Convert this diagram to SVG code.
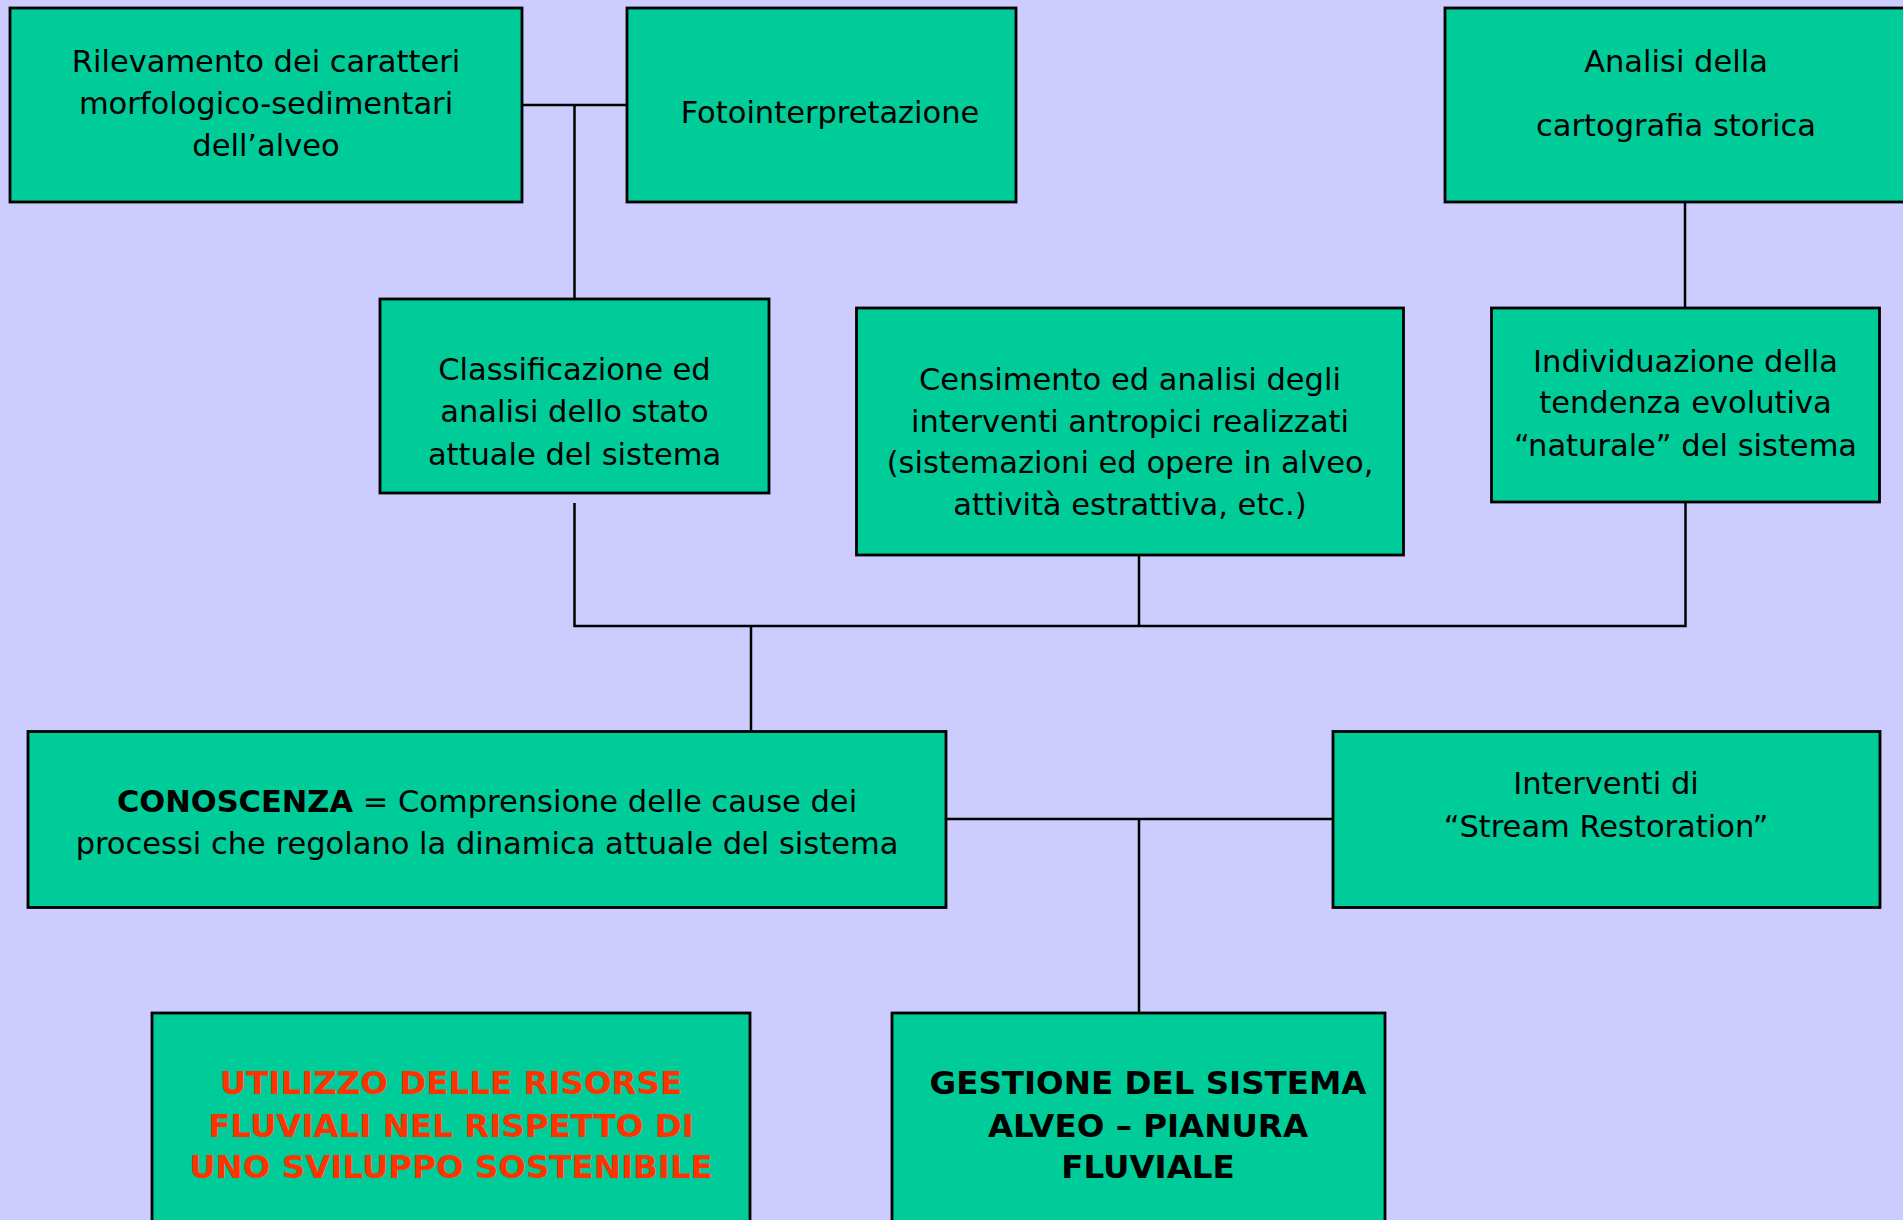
<svg xmlns="http://www.w3.org/2000/svg" width="1903" height="1220" viewBox="0 0 1903 1220">
<style>
.box{fill:#00CC99;stroke:#000;stroke-width:2.8}
.t{font-family:"DejaVu Sans","Liberation Sans",sans-serif;font-size:30.5px;fill:#000;text-anchor:middle}
.b{font-family:"DejaVu Sans","Liberation Sans",sans-serif;font-size:32.5px;font-weight:bold;text-anchor:middle}
.red{fill:#FF3300}
.blk{fill:#000}
.c{stroke:#000;stroke-width:2.5;fill:none}
</style>
<rect width="1903" height="1220" fill="#CCCCFF"/>
<g id="connectors">
<path class="c" d="M522,105 H627"/>
<path class="c" d="M574.5,105 V299"/>
<path class="c" d="M1685,202 V308"/>
<path class="c" d="M574.5,503 V626 H1685.5 V502"/>
<path class="c" d="M1139,555 V626"/>
<path class="c" d="M751,626 V731"/>
<path class="c" d="M946,819 H1333"/>
<path class="c" d="M1139,819 V1013"/>
</g>
<g id="n1">
<rect class="box" x="10" y="8" width="512" height="194"/>
<text class="t" x="266" y="72">Rilevamento dei caratteri</text>
<text class="t" x="266" y="114">morfologico-sedimentari</text>
<text class="t" x="266" y="156">dell’alveo</text>
</g>
<g id="n2">
<rect class="box" x="627" y="8" width="389" height="194"/>
<text class="t" x="830" y="123">Fotointerpretazione</text>
</g>
<g id="n3">
<rect class="box" x="1445" y="8" width="470" height="194"/>
<text class="t" x="1676" y="72">Analisi della</text>
<text class="t" x="1676" y="136">cartografia storica</text>
</g>
<g id="n4">
<rect class="box" x="380" y="299" width="389" height="194"/>
<text class="t" x="574.5" y="380">Classificazione ed</text>
<text class="t" x="574.5" y="422">analisi dello stato</text>
<text class="t" x="574.5" y="465">attuale del sistema</text>
</g>
<g id="n5">
<rect class="box" x="856.5" y="308" width="547" height="247"/>
<text class="t" x="1130" y="390">Censimento ed analisi degli</text>
<text class="t" x="1130" y="432">interventi antropici realizzati</text>
<text class="t" x="1130" y="473">(sistemazioni ed opere in alveo,</text>
<text class="t" x="1130" y="515">attività estrattiva, etc.)</text>
</g>
<g id="n6">
<rect class="box" x="1491.5" y="308" width="388" height="194"/>
<text class="t" x="1685.5" y="372">Individuazione della</text>
<text class="t" x="1685.5" y="413">tendenza evolutiva</text>
<text class="t" x="1685.5" y="456">“naturale” del sistema</text>
</g>
<g id="n7">
<rect class="box" x="28" y="731.5" width="918" height="176"/>
<text class="t" x="487" y="812"><tspan font-weight="bold">CONOSCENZA</tspan> = Comprensione delle cause dei</text>
<text class="t" x="487" y="854">processi che regolano la dinamica attuale del sistema</text>
</g>
<g id="n8">
<rect class="box" x="1333" y="731.5" width="547" height="176"/>
<text class="t" x="1606" y="794">Interventi di</text>
<text class="t" x="1606" y="837">“Stream Restoration”</text>
</g>
<g id="n9">
<rect class="box" x="152" y="1013" width="598" height="230"/>
<text class="b red" x="451" y="1094">UTILIZZO DELLE RISORSE</text>
<text class="b red" x="451" y="1137">FLUVIALI NEL RISPETTO DI</text>
<text class="b red" x="451" y="1178">UNO SVILUPPO SOSTENIBILE</text>
</g>
<g id="n10">
<rect class="box" x="892" y="1013" width="493" height="230"/>
<text class="b blk" x="1148" y="1094">GESTIONE DEL SISTEMA</text>
<text class="b blk" x="1148" y="1137">ALVEO – PIANURA</text>
<text class="b blk" x="1148" y="1178">FLUVIALE</text>
</g>
</svg>
